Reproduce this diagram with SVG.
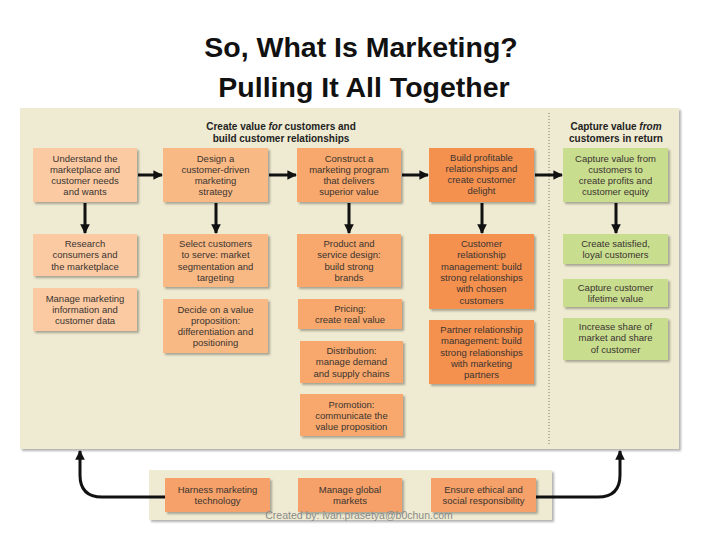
<svg xmlns="http://www.w3.org/2000/svg" width="720" height="540" viewBox="0 0 720 540">
<defs>
<filter id="sh" x="-10%" y="-10%" width="130%" height="130%">
<feDropShadow dx="2" dy="2" stdDeviation="1.2" flood-color="#000" flood-opacity="0.3"/>
</filter>
<marker id="ah" viewBox="0 0 10 10" refX="9" refY="5" markerWidth="3.2" markerHeight="3.4" orient="auto" markerUnits="strokeWidth">
<path d="M0,0 L10,5 L0,10 z" fill="#111"/>
</marker>
<style>
.title{font-family:"Liberation Sans",Arial,sans-serif;font-weight:bold;font-size:28.5px;fill:#111;text-anchor:middle}
.hd{font-family:"Liberation Sans",Arial,sans-serif;font-weight:bold;font-size:10px;fill:#222;text-anchor:middle}
.t{font-family:"Liberation Sans",Arial,sans-serif;font-size:9.5px;fill:#3a3430;text-anchor:middle}
.panel{fill:#efebd2}
.a{fill:#fbcaa3}
.b{fill:#f9b985}
.c{fill:#f8a86c}
.d{fill:#f5914f}
.g{fill:#c9dd8f}
.o{fill:#f6a169}
.ar{fill:none;stroke:#111;stroke-width:3;marker-end:url(#ah)}
.wm{font-family:"Liberation Sans",Arial,sans-serif;font-size:10.5px;fill:#8a8a8a;text-anchor:middle}
</style>
</defs>
<rect width="720" height="540" fill="#fff"/>
<text class="title" x="361" y="57">So, What Is Marketing?</text>
<text class="title" x="364" y="97">Pulling It All Together</text>

<g id="panel-main">
<rect class="panel" x="20" y="108" width="659" height="341" filter="url(#sh)"/>
<line x1="549" y1="113" x2="549" y2="446" stroke="#777" stroke-width="1" stroke-dasharray="1,2"/>
<text class="hd" x="281" y="130">Create value <tspan font-style="italic">for</tspan> customers and</text>
<text class="hd" x="281" y="142">build customer relationships</text>
<text class="hd" x="616" y="130">Capture value <tspan font-style="italic">from</tspan></text>
<text class="hd" x="616" y="142">customers in return</text>
</g>
<g id="panel-bottom">
<rect class="panel" x="149" y="470" width="403" height="50" filter="url(#sh)"/>
</g>

<g id="connectors">
<path class="ar" d="M138,175 H162"/>
<path class="ar" d="M269,175 H296"/>
<path class="ar" d="M402,175 H428"/>
<path class="ar" d="M535,175 H562"/>
<path class="ar" d="M85,203 V233"/>
<path class="ar" d="M216,203 V233"/>
<path class="ar" d="M349,203 V233"/>
<path class="ar" d="M482,203 V233"/>
<path class="ar" d="M616,203 V233"/>
<path class="ar" d="M165,497 H102 Q80,497 80,475 V451"/>
<path class="ar" d="M536,497 H598 Q620,497 620,475 V451"/>
</g>

<g id="n-understand"><rect class="a" x="33" y="148" width="104" height="54" filter="url(#sh)"/>
<text class="t" x="85" y="161.5">Understand the</text><text class="t" x="85" y="172.8">marketplace and</text><text class="t" x="85" y="184.1">customer needs</text><text class="t" x="85" y="195.4">and wants</text></g>
<g id="n-research"><rect class="a" x="33" y="234" width="104" height="42" filter="url(#sh)"/>
<text class="t" x="85" y="247">Research</text><text class="t" x="85" y="258.3">consumers and</text><text class="t" x="85" y="269.6">the marketplace</text></g>
<g id="n-manage-info"><rect class="a" x="33" y="288" width="104" height="43" filter="url(#sh)"/>
<text class="t" x="85" y="301.5">Manage marketing</text><text class="t" x="85" y="312.8">information and</text><text class="t" x="85" y="324.1">customer data</text></g>

<g id="n-design"><rect class="b" x="163" y="148" width="105" height="54" filter="url(#sh)"/>
<text class="t" x="215.5" y="161.5">Design a</text><text class="t" x="215.5" y="172.8">customer-driven</text><text class="t" x="215.5" y="184.1">marketing</text><text class="t" x="215.5" y="195.4">strategy</text></g>
<g id="n-select"><rect class="b" x="163" y="234" width="105" height="53" filter="url(#sh)"/>
<text class="t" x="215.5" y="247">Select customers</text><text class="t" x="215.5" y="258.3">to serve: market</text><text class="t" x="215.5" y="269.6">segmentation and</text><text class="t" x="215.5" y="280.9">targeting</text></g>
<g id="n-decide"><rect class="b" x="163" y="299" width="105" height="54" filter="url(#sh)"/>
<text class="t" x="215.5" y="312.5">Decide on a value</text><text class="t" x="215.5" y="323.8">proposition:</text><text class="t" x="215.5" y="335.1">differentiation and</text><text class="t" x="215.5" y="346.4">positioning</text></g>

<g id="n-construct"><rect class="c" x="297" y="148" width="104" height="54" filter="url(#sh)"/>
<text class="t" x="349" y="161.5">Construct a</text><text class="t" x="349" y="172.8">marketing program</text><text class="t" x="349" y="184.1">that delivers</text><text class="t" x="349" y="195.4">superior value</text></g>
<g id="n-product"><rect class="c" x="297" y="234" width="104" height="53" filter="url(#sh)"/>
<text class="t" x="349" y="247">Product and</text><text class="t" x="349" y="258.3">service design:</text><text class="t" x="349" y="269.6">build strong</text><text class="t" x="349" y="280.9">brands</text></g>
<g id="n-pricing"><rect class="c" x="298" y="299" width="104" height="30" filter="url(#sh)"/>
<text class="t" x="350" y="312">Pricing:</text><text class="t" x="350" y="323.3">create real value</text></g>
<g id="n-distribution"><rect class="c" x="300" y="341" width="103" height="42" filter="url(#sh)"/>
<text class="t" x="351.5" y="354">Distribution:</text><text class="t" x="351.5" y="365.3">manage demand</text><text class="t" x="351.5" y="376.6">and supply chains</text></g>
<g id="n-promotion"><rect class="c" x="300" y="394" width="103" height="42" filter="url(#sh)"/>
<text class="t" x="351.5" y="407.5">Promotion:</text><text class="t" x="351.5" y="418.8">communicate the</text><text class="t" x="351.5" y="430.1">value proposition</text></g>

<g id="n-build"><rect class="d" x="429" y="148" width="105" height="54" filter="url(#sh)"/>
<text class="t" x="481.5" y="160.5">Build profitable</text><text class="t" x="481.5" y="171.8">relationships and</text><text class="t" x="481.5" y="183.1">create customer</text><text class="t" x="481.5" y="194.4">delight</text></g>
<g id="n-crm"><rect class="d" x="429" y="234" width="105" height="75" filter="url(#sh)"/>
<text class="t" x="481.5" y="247">Customer</text><text class="t" x="481.5" y="258.3">relationship</text><text class="t" x="481.5" y="269.6">management: build</text><text class="t" x="481.5" y="280.9">strong relationships</text><text class="t" x="481.5" y="292.2">with chosen</text><text class="t" x="481.5" y="303.5">customers</text></g>
<g id="n-prm"><rect class="d" x="429" y="320" width="105" height="64" filter="url(#sh)"/>
<text class="t" x="481.5" y="333">Partner relationship</text><text class="t" x="481.5" y="344.3">management: build</text><text class="t" x="481.5" y="355.6">strong relationships</text><text class="t" x="481.5" y="366.9">with marketing</text><text class="t" x="481.5" y="378.2">partners</text></g>

<g id="n-capture"><rect class="g" x="563" y="148" width="105" height="54" filter="url(#sh)"/>
<text class="t" x="615.5" y="161.5">Capture value from</text><text class="t" x="615.5" y="172.8">customers to</text><text class="t" x="615.5" y="184.1">create profits and</text><text class="t" x="615.5" y="195.4">customer equity</text></g>
<g id="n-satisfied"><rect class="g" x="563" y="234" width="105" height="30" filter="url(#sh)"/>
<text class="t" x="615.5" y="247">Create satisfied,</text><text class="t" x="615.5" y="258.3">loyal customers</text></g>
<g id="n-lifetime"><rect class="g" x="563" y="279" width="105" height="28" filter="url(#sh)"/>
<text class="t" x="615.5" y="291">Capture customer</text><text class="t" x="615.5" y="302.3">lifetime value</text></g>
<g id="n-share"><rect class="g" x="563" y="318" width="105" height="42" filter="url(#sh)"/>
<text class="t" x="615.5" y="330">Increase share of</text><text class="t" x="615.5" y="341.3">market and share</text><text class="t" x="615.5" y="352.6">of customer</text></g>

<g id="n-harness"><rect class="o" x="165" y="478" width="105" height="34" filter="url(#sh)"/>
<text class="t" x="217.5" y="492.5">Harness marketing</text><text class="t" x="217.5" y="503.8">technology</text></g>
<g id="n-global"><rect class="o" x="298" y="478" width="104" height="34" filter="url(#sh)"/>
<text class="t" x="350" y="492.5">Manage global</text><text class="t" x="350" y="503.8">markets</text></g>
<g id="n-ethical"><rect class="o" x="431" y="478" width="105" height="34" filter="url(#sh)"/>
<text class="t" x="483.5" y="492.5">Ensure ethical and</text><text class="t" x="483.5" y="503.8">social responsibility</text></g>

<text class="wm" x="359" y="519">Created by: ivan.prasetya@b0chun.com</text>
</svg>
